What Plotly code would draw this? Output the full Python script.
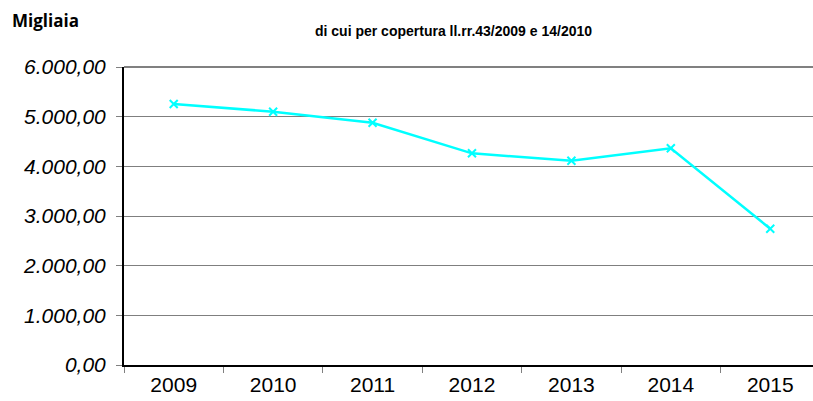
import plotly.graph_objects as go

years = ["2009", "2010", "2011", "2012", "2013", "2014", "2015"]
values = [5255, 5100, 4878, 4262, 4113, 4363, 2744]
y_tickvals = [0, 1000, 2000, 3000, 4000, 5000, 6000]
y_ticktext = ["0,00", "1.000,00", "2.000,00", "3.000,00", "4.000,00", "5.000,00", "6.000,00"]
title_text = "di cui per copertura ll.rr.43/2009 e 14/2010"
unit_text = "Migliaia"

fig = go.Figure()
fig.add_trace(go.Scatter(
    x=years, y=values, mode="lines+markers",
    line=dict(color="#00FFFF", width=2.5),
    marker=dict(symbol="x-thin", size=8, color="#00FFFF",
                line=dict(color="#00FFFF", width=2)),
    showlegend=False, cliponaxis=False,
))

PW = 813 - 124
PH = 365 - 67

fig.update_layout(
    width=813, height=401,
    margin=dict(l=124, r=0, t=67, b=36, autoexpand=False),
    paper_bgcolor="white", plot_bgcolor="white",
    xaxis=dict(
        type="category", range=[-0.5, 6.43],
        showline=True, linecolor="black", linewidth=2,
        ticks="outside", tickson="boundaries", ticklen=6,
        tickcolor="#808080", tickwidth=1,
        showgrid=False,
        tickfont=dict(family="Liberation Sans, Arial", size=21, color="black"),
    ),
    yaxis=dict(
        range=[0, 6000], tickvals=y_tickvals,
        ticktext=["<i>" + t + "</i>" for t in y_ticktext],
        showline=True, linecolor="black", linewidth=2,
        ticks="outside", ticklen=6, tickcolor="#808080",
        ticklabelstandoff=6,
        showgrid=True, gridcolor="#7f7f7f", gridwidth=1,
        zeroline=False,
        tickfont=dict(family="Liberation Sans, Arial", size=21, color="black"),
    ),
    shapes=[dict(type="line", xref="paper", yref="paper", x0=0, x1=1, y0=1, y1=1,
                 line=dict(color="#808080", width=2))],
    annotations=[
        dict(text="<b>" + unit_text + "</b>", xref="paper", yref="paper",
             x=(10 - 124) / PW, y=1 + (67 - 21) / PH, xanchor="left", yanchor="middle",
             showarrow=False, font=dict(family="Open Sans, Noto Sans", size=17, color="black")),
        dict(text="<b>" + title_text + "</b>", xref="paper", yref="paper",
             x=(453 - 124) / PW, y=1 + (67 - 31) / PH, xanchor="center", yanchor="middle",
             showarrow=False, font=dict(family="Liberation Sans, Arial", size=14, color="black")),
    ],
)

fig.write_html("out.html", config={"displayModeBar": False},
               post_script="document.body.style.margin='0';document.body.style.overflow='hidden';")
